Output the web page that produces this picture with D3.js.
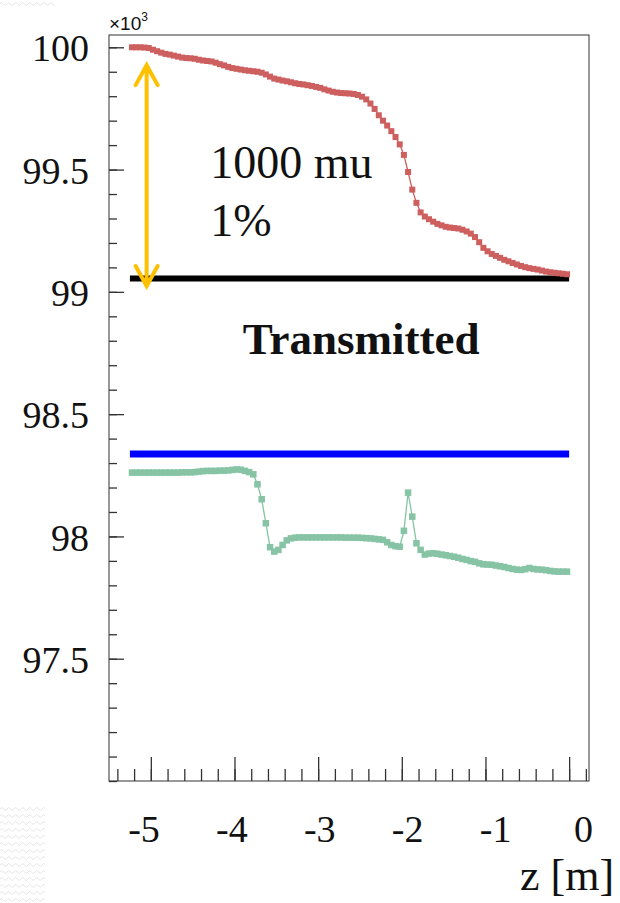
<!DOCTYPE html>
<html lang="en">
<head>
<meta charset="utf-8">
<script src="https://cdn.jsdelivr.net/npm/d3@7"></script>
<style>
  body { margin: 0; background: white; }
  svg { display: block; background: white; font-family: 'Liberation Serif', 'Times New Roman', serif; }
  .frame { fill: none; stroke: #333; stroke-width: 1; }
  .axis path.domain { display: none; }
  .axis line { stroke: #333; stroke-width: 1.3; }
  .axis text { font-family: 'Liberation Serif', serif; font-size: 38px; fill: #111; }
  .xlabel { font-size: 38px; fill: #111; }
  .series-line { fill: none; stroke-width: 1.3; }
  .note { font-size: 46px; fill: #111; }
  .note-bold { font-size: 45px; font-weight: bold; fill: #111; }
</style>
</head>
<body>
<svg width="620" height="903"></svg>
<script>
// z position of first bin centre and bin width [m]
var zStart = -5.225, zStep = 0.05;

// upper (red) series, x10^3
var redValues = [
  100.000, 100.000, 100.000, 99.999, 99.997, 99.990, 99.984, 99.978, 99.973, 99.970,
  99.966, 99.962, 99.958, 99.956, 99.955, 99.953, 99.949, 99.946, 99.944, 99.942,
  99.937, 99.931, 99.926, 99.920, 99.915, 99.912, 99.909, 99.906, 99.904, 99.902,
  99.900, 99.896, 99.889, 99.880, 99.872, 99.868, 99.864, 99.861, 99.857, 99.853,
  99.850, 99.848, 99.845, 99.842, 99.838, 99.834, 99.828, 99.823, 99.818, 99.815,
  99.813, 99.812, 99.811, 99.809, 99.805, 99.798, 99.787, 99.770, 99.748, 99.722,
  99.700, 99.680, 99.657, 99.633, 99.603, 99.560, 99.490, 99.418, 99.364, 99.325,
  99.308, 99.297, 99.287, 99.278, 99.272, 99.266, 99.263, 99.261, 99.259, 99.254,
  99.247, 99.238, 99.224, 99.203, 99.180, 99.166, 99.155, 99.147, 99.139, 99.131,
  99.125, 99.118, 99.112, 99.106, 99.101, 99.097, 99.094, 99.091, 99.087, 99.083,
  99.080, 99.078, 99.076, 99.074, 99.072
];

// lower (green) series, x10^3
var greenValues = [
  98.261, 98.261, 98.261, 98.261, 98.261, 98.261, 98.261, 98.261, 98.261, 98.261,
  98.261, 98.261, 98.262, 98.262, 98.262, 98.263, 98.265, 98.267, 98.268, 98.268,
  98.268, 98.269, 98.269, 98.270, 98.272, 98.274, 98.273, 98.268, 98.263, 98.254,
  98.213, 98.152, 98.054, 97.956, 97.938, 97.945, 97.965, 97.984, 97.992, 97.995,
  97.996, 97.996, 97.996, 97.996, 97.996, 97.996, 97.996, 97.996, 97.996, 97.996,
  97.996, 97.995, 97.995, 97.995, 97.995, 97.994, 97.993, 97.992, 97.990, 97.988,
  97.986, 97.976, 97.965, 97.960, 97.958, 98.023, 98.179, 98.081, 97.972, 97.945,
  97.926, 97.930, 97.931, 97.929, 97.926, 97.923, 97.920, 97.917, 97.913, 97.908,
  97.904, 97.899, 97.896, 97.890, 97.886, 97.885, 97.884, 97.881, 97.878, 97.875,
  97.871, 97.867, 97.864, 97.863, 97.866, 97.871, 97.867, 97.865, 97.864, 97.862,
  97.859, 97.857, 97.856, 97.856, 97.856
];

// horizontal reference lines
var transmittedLevel = 99.055;
var blueLevel = 98.337;
var levelRange = [-5.25, 0.0];

// axis ticks
var yMajorTicks = [97.5, 98, 98.5, 99, 99.5, 100];
var yTickLabels = ["97.5", "98", "98.5", "99", "99.5", "100"];
var xMajorTicks = [-5, -4, -3, -2, -1, 0];
var xTickLabels = ["-5", "-4", "-3", "-2", "-1", "0"];
var xAxisTitle = "z [m]";

// annotation: arrow between 100 and the transmitted line
var arrowZ = -5.05, arrowTop = 99.927, arrowBottom = 99.024;

var svg = d3.select("svg"),
    W = +svg.attr("width"),
    H = +svg.attr("height");

var margin = {top: 35, right: 31, bottom: 122, left: 109},
    width = W - margin.left - margin.right,
    height = H - margin.top - margin.bottom;

// faint slide texture in the corners
var defs = svg.append("defs");
var pat = defs.append("pattern")
    .attr("id", "wave")
    .attr("width", 7).attr("height", 7)
    .attr("patternUnits", "userSpaceOnUse");
pat.append("path")
    .attr("d", "M0,4 q1.75,-3 3.5,0 t3.5,0")
    .attr("fill", "none")
    .attr("stroke", "#e4e4e4")
    .attr("stroke-width", 1);
svg.append("rect").attr("x", 0).attr("y", 805).attr("width", 45).attr("height", 98).attr("fill", "url(#wave)");
svg.append("rect").attr("x", 0).attr("y", 0).attr("width", 55).attr("height", 6).attr("fill", "url(#wave)");

var x = d3.scaleLinear().domain([-5.5, 0.2375]).range([0, width]);
var y = d3.scaleLinear().domain([97.0, 97.0 + height / 244.57]).range([height, 0]);

var g = svg.append("g").attr("transform", "translate(" + margin.left + "," + margin.top + ")");

var red = redValues.map(function(v, i) { return {z: zStart + i * zStep, v: v}; });
var green = greenValues.map(function(v, i) { return {z: zStart + i * zStep, v: v}; });

// y axis: minor then major ticks, pointing inwards
var yMinor = d3.range(0, 31).map(function(i) { return 97 + i * 0.1; });
g.append("g").attr("class", "axis")
    .call(d3.axisLeft(y).tickValues(yMinor).tickSize(-8).tickFormat(""));
g.append("g").attr("class", "axis")
    .call(d3.axisLeft(y).tickValues(yMajorTicks).tickSize(-15).tickPadding(20)
      .tickFormat(function(d, i) { return yTickLabels[i]; }))
  .selectAll("text").attr("dy", "0.36em");

// x axis ticks
var xMinor = d3.range(0, 29).map(function(i) { return -5.4 + i * 0.2; });
g.append("g").attr("class", "axis")
    .attr("transform", "translate(0," + height + ")")
    .call(d3.axisBottom(x).tickValues(xMinor).tickSize(-12).tickFormat(""));
g.append("g").attr("class", "axis")
    .attr("transform", "translate(0," + height + ")")
    .call(d3.axisBottom(x).tickValues(xMajorTicks).tickSize(-24).tickFormat(""));

// x labels sit on the slide, a bit more spread than the ticks
var xLab = d3.scaleLinear().domain([-5, 0]).range([144 - margin.left, 583.5 - margin.left]);
g.append("g").selectAll("text")
    .data(xMajorTicks)
  .enter().append("text")
    .attr("class", "xlabel")
    .attr("x", function(d) { return xLab(d); })
    .attr("y", height + 61)
    .attr("text-anchor", "middle")
    .text(function(d, i) { return xTickLabels[i]; });

svg.append("text")
    .attr("class", "xlabel")
    .attr("x", 520)
    .attr("y", 890)
    .style("font-size", "44px")
    .text(xAxisTitle);

// frame
g.append("rect").attr("class", "frame")
    .attr("x", 0).attr("y", 0)
    .attr("width", width).attr("height", height);

// x10^3 exponent
var ex = svg.append("text")
    .attr("x", margin.left)
    .attr("y", 30)
    .attr("font-family", "'Liberation Sans', Arial, sans-serif")
    .attr("font-size", 19)
    .attr("fill", "#111");
ex.append("tspan").text("\u00d710");
ex.append("tspan").attr("dy", -9).attr("font-size", 12).text("3");

// horizontal levels
g.append("line")
    .attr("x1", x(levelRange[0])).attr("x2", x(levelRange[1]))
    .attr("y1", y(blueLevel)).attr("y2", y(blueLevel))
    .attr("stroke", "#0000ff").attr("stroke-width", 7);
g.append("line")
    .attr("x1", x(levelRange[0])).attr("x2", x(levelRange[1]))
    .attr("y1", y(transmittedLevel)).attr("y2", y(transmittedLevel))
    .attr("stroke", "#000").attr("stroke-width", 6);

// series
var line = d3.line().x(function(d) { return x(d.z); }).y(function(d) { return y(d.v); });

function drawSeries(data, color, size) {
  g.append("path").datum(data)
      .attr("class", "series-line")
      .attr("stroke", color)
      .attr("d", line);
  g.append("g").selectAll("rect")
      .data(data)
    .enter().append("rect")
      .attr("x", function(d) { return x(d.z) - size / 2; })
      .attr("y", function(d) { return y(d.v) - size / 2; })
      .attr("width", size).attr("height", size)
      .attr("fill", color);
}
drawSeries(green, "#86c4a5", 6.5);
drawSeries(red, "#cd5f5f", 6);

// gold double arrow
var ax = x(arrowZ), ay1 = y(arrowTop), ay2 = y(arrowBottom);
g.append("path")
    .attr("d", "M" + ax + "," + ay1 + "V" + ay2 +
               "M" + (ax - 11) + "," + (ay1 + 20) + "L" + ax + "," + ay1 + "L" + (ax + 11) + "," + (ay1 + 20) +
               "M" + (ax - 11) + "," + (ay2 - 20) + "L" + ax + "," + ay2 + "L" + (ax + 11) + "," + (ay2 - 20))
    .attr("fill", "none")
    .attr("stroke", "#ffc000")
    .attr("stroke-width", 4)
    .attr("stroke-linecap", "round")
    .attr("stroke-linejoin", "miter");

// annotations
g.append("text").attr("class", "note")
    .attr("x", x(-4.29)).attr("y", y(99.465))
    .text("1000 mu");
g.append("text").attr("class", "note")
    .attr("x", x(-4.29)).attr("y", y(99.23))
    .text("1%");
g.append("text").attr("class", "note-bold")
    .attr("x", x(-3.9)).attr("y", y(98.746))
    .text("Transmitted");
</script>
</body>
</html>
